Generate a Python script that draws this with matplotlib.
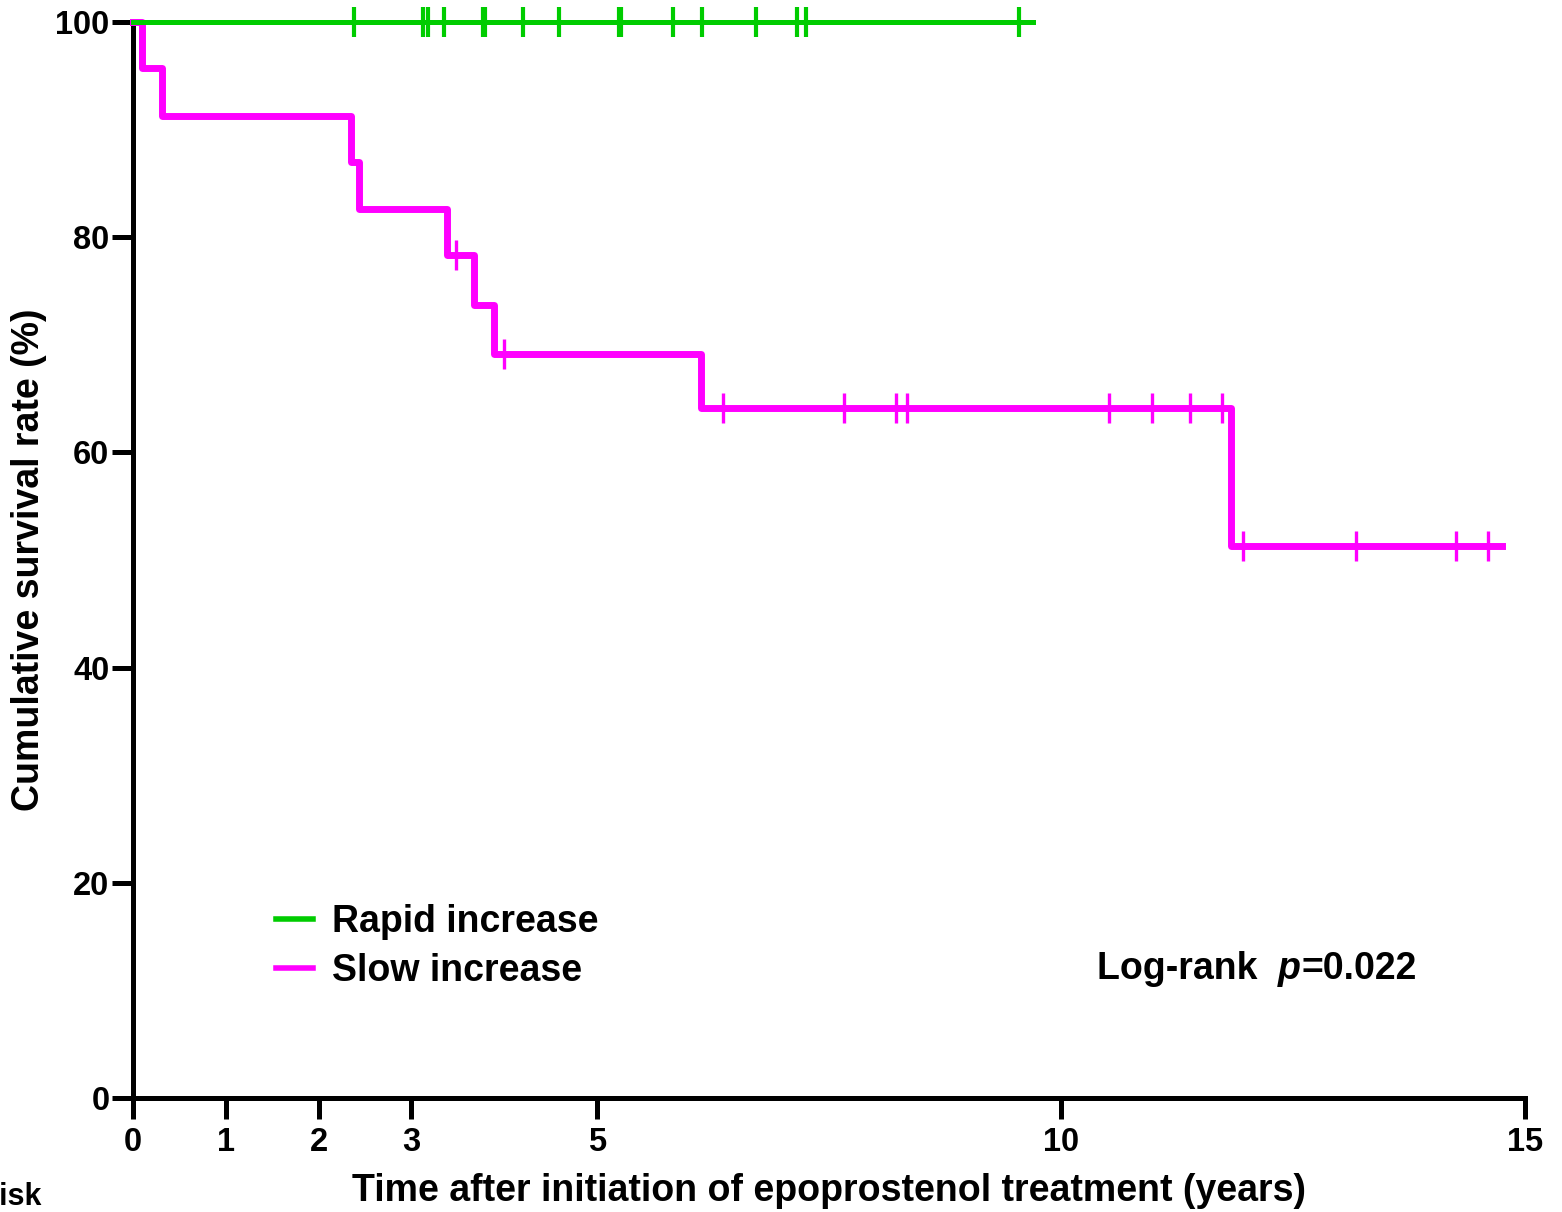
import matplotlib
matplotlib.use('Agg')
import matplotlib.pyplot as plt
import numpy as np

plt.rcParams['font.family'] = ['Liberation Sans', 'DejaVu Sans']
plt.rcParams['font.weight'] = 'bold'

GREEN = '#00CC00'
MAGENTA = '#FF00FF'

# Rapid increase group: no events, censored only
rapid_end = 9.70
rapid_censor = [2.38, 3.12, 3.18, 3.35, 3.77, 3.79, 4.20, 4.59, 5.24, 5.26,
                5.82, 6.13, 6.71, 7.16, 7.25, 9.55]

# Slow increase group: step times and survival (%)
slow_times = [0, 0.10, 0.31, 2.35, 2.43, 3.38, 3.67, 3.89, 6.12, 11.83, 14.75]
slow_surv = [100, 95.7, 91.3, 87.0, 82.6, 78.3, 73.7, 69.1, 64.1, 51.3, 51.3]
slow_censor = [3.48, 4.00, 6.36, 7.66, 8.22, 8.34, 10.52, 10.98, 11.39, 11.74,
               11.96, 13.18, 14.26, 14.60]

xticks = [0, 1, 2, 3, 5, 10, 15]
yticks = [0, 20, 40, 60, 80, 100]


def surv_at(t, times, surv):
    idx = np.searchsorted(times, t, side='right') - 1
    return np.array(surv)[idx]


fig = plt.figure(figsize=(15.62, 12.12), dpi=100)
ax = fig.add_axes([133/1562, 1 - 1098/1212, 1392/1562, 1076/1212])

ax.step([0, rapid_end], [100, 100], where='post', color=GREEN, lw=3.6,
        clip_on=False, zorder=4, label='Rapid increase')
ax.plot(rapid_censor, [100]*len(rapid_censor), ls='none', marker='|',
        ms=21, mew=3, color=GREEN, clip_on=False, zorder=4)

ax.step(slow_times, slow_surv, where='post', color=MAGENTA, lw=5,
        solid_joinstyle='round', clip_on=False, zorder=3, label='Slow increase')
ax.plot(slow_censor, surv_at(slow_censor, slow_times, slow_surv), ls='none',
        marker='|', ms=22, mew=2.4, color=MAGENTA, clip_on=False, zorder=3)

ax.set_xlim(0, 15)
ax.set_ylim(0, 100)
ax.set_xticks(xticks)
ax.set_yticks(yticks)
for s in ['top', 'right']:
    ax.spines[s].set_visible(False)
for s in ['left', 'bottom']:
    ax.spines[s].set_linewidth(3.6)
ax.tick_params(width=3.6, length=15, labelsize=23.5)
ax.tick_params(axis='x', pad=6)
ax.tick_params(axis='y', pad=2)

ax.set_xlabel('Time after initiation of epoprostenol treatment (years)',
              fontsize=27, fontweight='bold', labelpad=11)
ax.set_ylabel('Cumulative survival rate (%)', fontsize=27, fontweight='bold',
              labelpad=6)

leg = ax.legend(loc='upper left', bbox_to_anchor=(0.1027, 0.180), frameon=False,
                fontsize=27, handlelength=1.0, handletextpad=0.5,
                labelspacing=0.33, borderpad=0, borderaxespad=0)
for h in leg.get_lines():
    h.set_linewidth(4)

t1 = ax.text(0.6925, 0.1200, 'Log-rank  ', transform=ax.transAxes,
             fontsize=27, fontweight='bold', va='center')
t2 = ax.annotate('p', xy=(1, 0), xycoords=t1, va='bottom', fontsize=27,
                 fontweight='bold', fontstyle='italic')
ax.annotate('=0.022', xy=(1, 0), xycoords=t2, va='bottom', fontsize=27,
            fontweight='bold')

fig.text(41/1562, 1 - 1197/1212, 'Number at risk', ha='right', va='center',
         fontsize=22, fontweight='bold')

fig.savefig('out.png', dpi=100)
